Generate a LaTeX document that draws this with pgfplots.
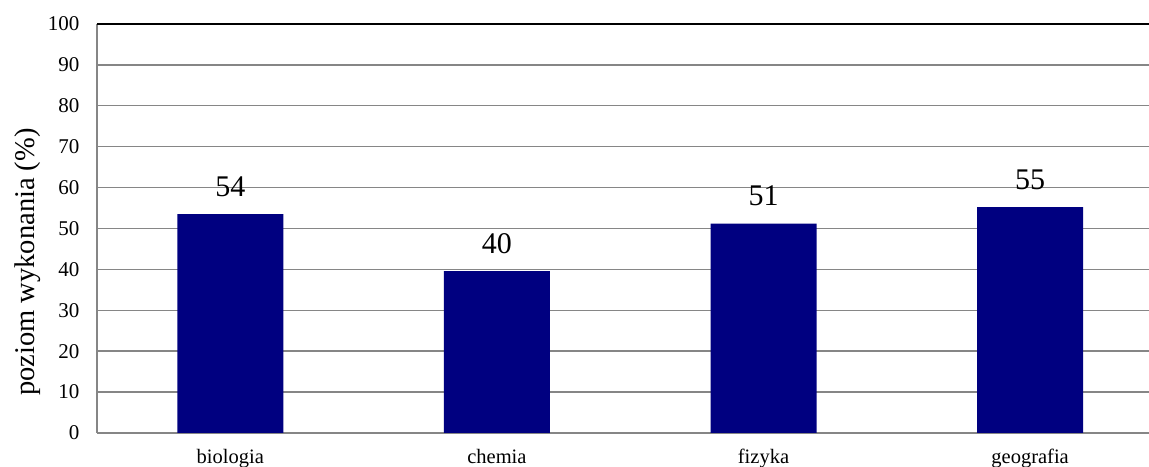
\documentclass[border=0pt]{standalone}
\usepackage{pgfplots}
\pgfplotsset{compat=1.18}
\usepackage{fontspec}
\setmainfont{Liberation Serif}
\definecolor{barblue}{RGB}{0,0,128}
\definecolor{gridgray}{RGB}{134,134,134}
\begin{document}
\begin{tikzpicture}
\begin{axis}[
  scale only axis,
  width=1052pt, height=409pt,
  xmin=-0.5, xmax=3.446,
  ymin=0, ymax=100,
  ytick={0,10,...,100},
  xtick={0,1,2,3},
  xticklabels={biologia,chemia,fizyka,geografia},
  /pgf/number format/assume math mode=true,
  ymajorgrids,
  grid style={gridgray, line width=1.4pt},
  major tick length=0pt,
  axis x line*=bottom,
  axis y line*=left,
  axis line style={gridgray, line width=1.4pt, -},
  yticklabel style={font=\rmfamily\fontsize{21}{24}\selectfont, xshift=-14pt},
  xticklabel style={font=\rmfamily\fontsize{20.5}{24}\selectfont, yshift=-13pt},
  ylabel={poziom wykonania (\%)},
  ylabel style={font=\rmfamily\fontsize{28.5}{32}\selectfont, at={(axis description cs:-0.0656,0.418)}, anchor=center, rotate=0},
  clip=false,
  nodes near coords,
  point meta=explicit symbolic,
  nodes near coords style={font=\rmfamily\fontsize{30}{34}\selectfont, anchor=south, yshift=14pt},
]
\addplot[ybar, bar width=106pt, fill=barblue, draw=none] table[meta=label] {
x y label
0 53.5 54
1 39.6 40
2 51.2 51
3 55.2 55
};
\draw[black, line width=1.6pt] (rel axis cs:0,1) -- (rel axis cs:1,1);
\end{axis}
\pgfresetboundingbox
\path (current axis.south west) ++(-97pt,-34pt) coordinate (bl);
\path (current axis.north east) ++(0pt,24pt) coordinate (tr);
\path (bl) rectangle (tr);
\end{tikzpicture}
\end{document}
